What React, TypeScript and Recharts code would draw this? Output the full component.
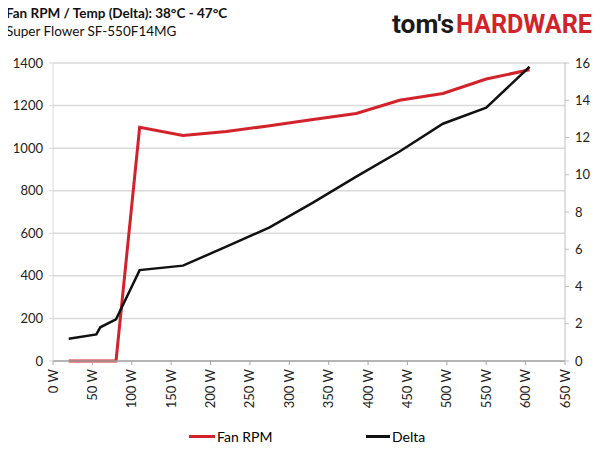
import { LineChart, Line, XAxis, YAxis, CartesianGrid } from 'recharts';

// Load points (W) and the readings taken at each
const loads = [20, 55, 60, 80, 110, 165, 220, 275, 330, 385, 440, 495, 550, 605];
const fanRpm = [0, 0, 0, 0, 1098, 1060, 1078, 1105, 1135, 1163, 1225, 1257, 1325, 1368];
const delta = [1.2, 1.43, 1.81, 2.24, 4.88, 5.12, 6.14, 7.17, 8.5, 9.9, 11.25, 12.74, 13.6, 15.8];

const xTicks = [0, 50, 100, 150, 200, 250, 300, 350, 400, 450, 500, 550, 600, 650];
const rpmTicks = [0, 200, 400, 600, 800, 1000, 1200, 1400];
const deltaTicks = [0, 2, 4, 6, 8, 10, 12, 14, 16];

const data = loads.map((w, i) => ({ load: w, rpm: fanRpm[i], delta: delta[i] }));

const FONT = 'Lato, "Open Sans", sans-serif';
const RED = '#d2232a';

const WattTick = (props: any) => {
  const { x, y, payload } = props;
  return (
    <text
      x={x}
      y={y}
      transform={`rotate(-90 ${x} ${y})`}
      textAnchor='end'
      dy='0.35em'
      fontSize={13}
      fill='#222'
      fontFamily={FONT}
    >
      {payload.value} W
    </text>
  );
};

const App = () => {
  return (
    <div
      style={{
        position: 'relative',
        left: -8,
        top: -8,
        width: 600,
        height: 450,
        background: '#fff',
        fontFamily: FONT,
      }}
    >
      <div style={{ position: 'absolute', left: 6, top: 4, fontSize: 13.5, lineHeight: '18px', color: '#111' }}>
        <div style={{ fontWeight: 700 }}>Fan RPM / Temp (Delta): 38°C - 47°C</div>
        <div>Super Flower SF-550F14MG</div>
      </div>
      <svg style={{ position: 'absolute', left: 0, top: 0 }} width={600} height={45}>
        <text
          x={392}
          y={33}
          fontSize={26}
          fontWeight={700}
          fontFamily='Roboto, sans-serif'
          fill='#1a1a1a'
          textLength={62}
          lengthAdjust='spacingAndGlyphs'
        >
          tom's
        </text>
        <text
          x={456}
          y={33}
          fontSize={26}
          fontWeight={700}
          fontFamily='Roboto, sans-serif'
          fill={RED}
          textLength={136}
          lengthAdjust='spacingAndGlyphs'
        >
          HARDWARE
        </text>
      </svg>

      <div style={{ position: 'absolute', left: 0, top: 0 }}>
        <LineChart
          width={600}
          height={450}
          data={data}
          margin={{ top: 63, right: 0, left: 0, bottom: 39 }}
          style={{ fontFamily: FONT }}
        >
          <CartesianGrid yAxisId='left' vertical={false} stroke='#d9d9d9' strokeWidth={1.5} />
          <XAxis
            dataKey='load'
            type='number'
            domain={[0, 650]}
            ticks={xTicks}
            interval={0}
            height={50}
            tickSize={4}
            tickMargin={4}
            axisLine={{ stroke: '#a6a6a6', strokeWidth: 1.5 }}
            tickLine={{ stroke: '#a6a6a6' }}
            tick={<WattTick />}
          />
          <YAxis
            yAxisId='left'
            width={53}
            domain={[0, 1400]}
            ticks={rpmTicks}
            interval={0}
            tickSize={4}
            tickMargin={6}
            axisLine={{ stroke: '#d9d9d9' }}
            tickLine={{ stroke: '#d9d9d9' }}
            tick={{ fontSize: 13, fill: '#222' }}
          />
          <YAxis
            yAxisId='right'
            orientation='right'
            width={35}
            domain={[0, 16]}
            ticks={deltaTicks}
            interval={0}
            tickSize={4}
            tickMargin={6}
            axisLine={{ stroke: '#bfbfbf' }}
            tickLine={{ stroke: '#bfbfbf' }}
            tick={{ fontSize: 13, fill: '#222', textAnchor: 'start' }}
          />
          <Line
            yAxisId='left'
            dataKey='rpm'
            stroke={RED}
            strokeWidth={3}
            dot={false}
            type='linear'
            isAnimationActive={false}
          />
          <Line
            yAxisId='right'
            dataKey='delta'
            stroke='#111'
            strokeWidth={2.5}
            dot={false}
            type='linear'
            isAnimationActive={false}
          />
        </LineChart>
      </div>

      <div style={{ position: 'absolute', left: 189, top: 428, display: 'flex', alignItems: 'center', fontSize: 14 }}>
        <span style={{ width: 26, height: 3, background: RED, display: 'inline-block' }} />
        <span style={{ marginLeft: 2 }}>Fan RPM</span>
      </div>
      <div style={{ position: 'absolute', left: 366, top: 428, display: 'flex', alignItems: 'center', fontSize: 14 }}>
        <span style={{ width: 24, height: 3, background: '#111', display: 'inline-block' }} />
        <span style={{ marginLeft: 2 }}>Delta</span>
      </div>
    </div>
  );
};

export default App;
